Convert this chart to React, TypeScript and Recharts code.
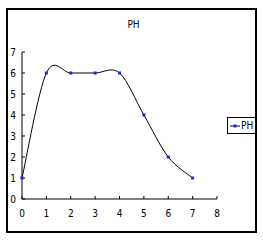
import React from 'react';
import { LineChart, Line, XAxis, YAxis } from 'recharts';

const xValues = [0, 1, 2, 3, 4, 5, 6, 7];
const phValues = [1, 6, 6, 6, 6, 4, 2, 1];
const xTicks = [0, 1, 2, 3, 4, 5, 6, 7, 8];
const yTicks = [0, 1, 2, 3, 4, 5, 6, 7];
const seriesName = 'PH';
const chartTitle = 'PH';

const data = xValues.map((x, i) => ({ x, ph: phValues[i] }));

const FONT = '"DejaVu Sans Condensed", "Liberation Sans Narrow", sans-serif';

function catmullRom(context: any) {
  let pts: [number, number][] = [];
  return {
    areaStart() {},
    areaEnd() {},
    lineStart() {
      pts = [];
    },
    lineEnd() {
      if (!pts.length) return;
      context.moveTo(pts[0][0], pts[0][1]);
      for (let i = 0; i < pts.length - 1; i++) {
        const p0 = pts[i - 1] || pts[i];
        const p1 = pts[i];
        const p2 = pts[i + 1];
        const p3 = pts[i + 2] || p2;
        context.bezierCurveTo(
          p1[0] + (p2[0] - p0[0]) / 6,
          p1[1] + (p2[1] - p0[1]) / 6,
          p2[0] - (p3[0] - p1[0]) / 6,
          p2[1] - (p3[1] - p1[1]) / 6,
          p2[0],
          p2[1]
        );
      }
    },
    point(x: number, y: number) {
      pts.push([x, y]);
    },
  };
}

const SquareDot = (props: any) => {
  const { cx, cy } = props;
  if (cx == null || cy == null) return null;
  return <rect x={cx - 1.5} y={cy - 1.5} width={3} height={3} fill="#1428e6" />;
};

const LegendBox = () => (
  <div
    style={{
      position: 'absolute',
      left: 227,
      top: 117,
      border: '1px solid #000',
      width: 29,
      height: 17,
      display: 'flex',
      alignItems: 'center',
      background: '#fff',
      boxSizing: 'border-box',
    }}
  >
    <svg width={10} height={8} style={{ marginLeft: 2 }}>
      <line x1={0} y1={4} x2={10} y2={4} stroke="#000" strokeWidth={1} />
      <rect x={3.5} y={2.5} width={3} height={3} fill="#1428e6" />
    </svg>
    <span style={{ fontFamily: FONT, fontSize: 10, marginLeft: 1, color: '#000', lineHeight: '10px' }}>
      {seriesName}
    </span>
  </div>
);

export default function App() {
  return (
    <div
      style={{
        position: 'absolute',
        left: 0,
        top: 0,
        width: 263,
        height: 243,
        background: '#fff',
      }}
    >
      <div
        style={{
          position: 'absolute',
          left: 6,
          top: 8,
          width: 251,
          height: 225,
          border: '2px solid #000',
          boxSizing: 'border-box',
        }}
      />
      <div
        style={{
          position: 'absolute',
          left: 0,
          width: 263,
          top: 19,
          textAlign: 'center',
          fontFamily: FONT,
          fontSize: 10,
          color: '#000',
          paddingLeft: 2,
        }}
      >
        {chartTitle}
      </div>
      <LineChart
        width={263}
        height={243}
        data={data}
        margin={{ top: 52, right: 46, bottom: 14, left: 7 }}
        style={{ position: 'absolute', left: 0, top: 0 }}
      >
        <XAxis
          dataKey="x"
          type="number"
          domain={[0, 8]}
          ticks={xTicks}
          interval={0}
          height={30}
          stroke="#000"
          tickSize={-3}
          tickMargin={14}
          tick={{ fill: '#000', fontSize: 10, fontFamily: FONT }}
        />
        <YAxis
          type="number"
          domain={[0, 7]}
          ticks={yTicks}
          interval={0}
          width={15}
          stroke="#000"
          tickSize={-3}
          tickMargin={9}
          tick={{ fill: '#000', fontSize: 10, fontFamily: FONT }}
        />
        <Line
          dataKey="ph"
          name={seriesName}
          type={catmullRom as any}
          stroke="#000"
          strokeWidth={1}
          dot={<SquareDot />}
          activeDot={false}
          isAnimationActive={false}
        />
      </LineChart>
      <LegendBox />
    </div>
  );
}
